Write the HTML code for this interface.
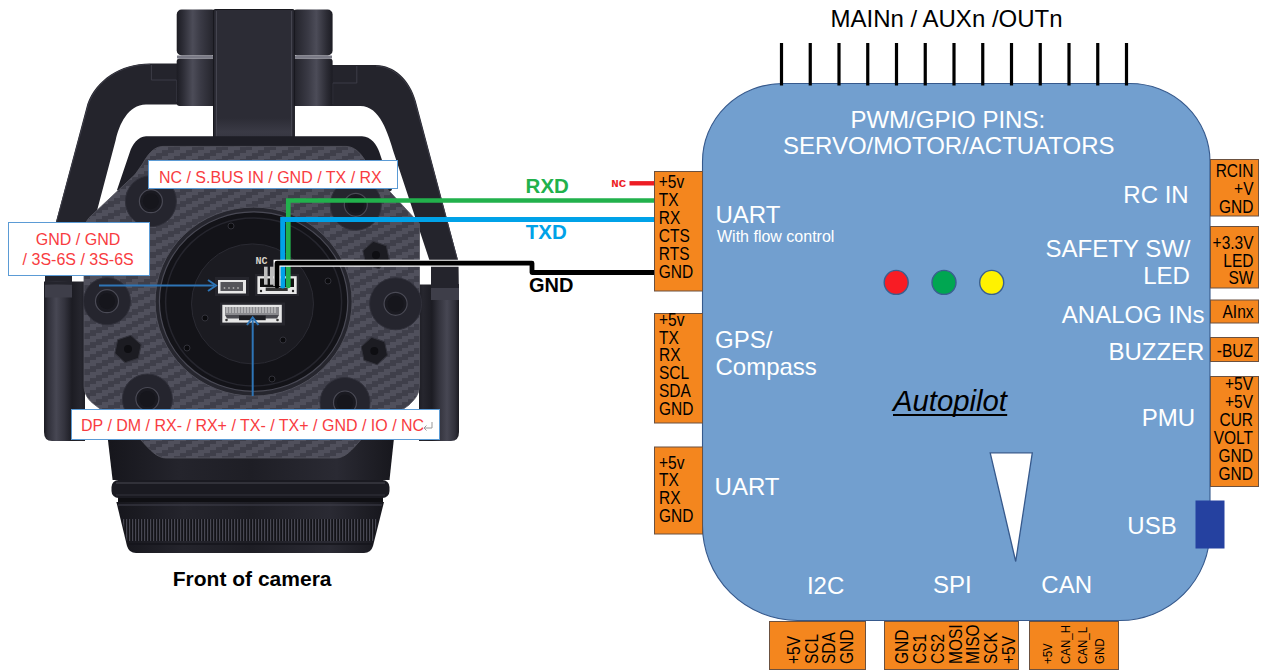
<!DOCTYPE html>
<html><head><meta charset="utf-8">
<style>
html,body{margin:0;padding:0;background:#fff;}
body{width:1266px;height:672px;overflow:hidden;position:relative;}
svg{position:absolute;left:0;top:0;}
text{font-family:"Liberation Sans",sans-serif;}
</style></head><body>
<svg width="1266" height="672" viewBox="0 0 1266 672">
<defs>
<pattern id="carbon" width="24" height="12" patternUnits="userSpaceOnUse"><rect width="24" height="12" fill="#3f3f4a"/><g fill="#50505c"><rect x="18" y="0" width="12" height="3.05"/><rect x="-6" y="0" width="12" height="3.05"/><rect x="12" y="3" width="12" height="3.05"/><rect x="6" y="6" width="12" height="3.05"/><rect x="0" y="9" width="12" height="3.05"/></g></pattern>
<linearGradient id="cylH" x1="0" x2="1" y1="0" y2="0">
<stop offset="0" stop-color="#1a1a20"/><stop offset="0.45" stop-color="#3a3a44"/><stop offset="0.7" stop-color="#2a2a32"/><stop offset="1" stop-color="#18181e"/>
</linearGradient>
<linearGradient id="motorL" x1="0" x2="1" y1="0" y2="0">
<stop offset="0" stop-color="#1a1a21"/><stop offset="0.1" stop-color="#30303a"/><stop offset="0.3" stop-color="#474753"/><stop offset="0.5" stop-color="#33333d"/><stop offset="0.68" stop-color="#1c1c23"/><stop offset="0.9" stop-color="#26262e"/><stop offset="1" stop-color="#1e1e25"/></linearGradient>
<linearGradient id="motorR" x1="0" x2="1" y1="0" y2="0">
<stop offset="0" stop-color="#1e1e25"/><stop offset="0.1" stop-color="#26262e"/><stop offset="0.32" stop-color="#1c1c23"/><stop offset="0.5" stop-color="#33333d"/><stop offset="0.7" stop-color="#474753"/><stop offset="0.9" stop-color="#30303a"/><stop offset="1" stop-color="#1a1a21"/></linearGradient>
<linearGradient id="barrel" x1="0" x2="1" y1="0" y2="0">
<stop offset="0" stop-color="#16161c"/><stop offset="0.25" stop-color="#24242c"/><stop offset="0.5" stop-color="#1e1e25"/><stop offset="0.8" stop-color="#2a2a33"/><stop offset="1" stop-color="#17171d"/></linearGradient>
<radialGradient id="boss" cx="0.45" cy="0.4" r="0.6">
<stop offset="0" stop-color="#2a2a32"/><stop offset="1" stop-color="#1a1a20"/>
</radialGradient>
<pattern id="knurl" width="3" height="22" patternUnits="userSpaceOnUse"><rect width="3" height="22" fill="#131318"/><rect x="0" width="1.2" height="22" fill="#474752"/></pattern>
<linearGradient id="cylL" x1="0" x2="1" y1="0" y2="0"><stop offset="0" stop-color="#1c1c23"/><stop offset="0.15" stop-color="#2c2c35"/><stop offset="0.4" stop-color="#4c4c58"/><stop offset="0.6" stop-color="#3a3a45"/><stop offset="0.9" stop-color="#26262e"/><stop offset="1" stop-color="#1a1a20"/></linearGradient>
<linearGradient id="cylR" x1="0" x2="1" y1="0" y2="0"><stop offset="0" stop-color="#1a1a20"/><stop offset="0.1" stop-color="#26262e"/><stop offset="0.4" stop-color="#3a3a45"/><stop offset="0.6" stop-color="#4c4c58"/><stop offset="0.85" stop-color="#2c2c35"/><stop offset="1" stop-color="#1c1c23"/></linearGradient>
<linearGradient id="colBot" x1="0" x2="0" y1="0" y2="1"><stop offset="0" stop-color="#2c2c35"/><stop offset="0.5" stop-color="#3a3a45"/><stop offset="1" stop-color="#33333d"/></linearGradient>
</defs>
<g id="camera">
<!-- arms -->
<path d="M178 63.4 L150 63.4 C120 63.4 96 80 87.4 103.7 L56.2 221 L45 262 L45 300 L72 300 L72 270 L94.3 221 L115.7 140 C119 125 128 104.5 146 104.5 L213 104.5 Z" fill="#24242c"/>
<path d="M331 65 L376 65 C394 65 410 80 415.7 100.7 L458.5 262 L459 300 L431 300 L431 265 L394.3 154.3 C388 133 380 106 360.4 106 L296 106 Z" fill="#24242c"/>
<path d="M150 64.4 C120 64.4 97 81 88.4 104 L56.5 222" fill="none" stroke="#3c3c47" stroke-width="1"/>
<path d="M376 66 C393 66 409 81 414.7 101 L458 262" fill="none" stroke="#3c3c47" stroke-width="1"/>
<path d="M151.4 65 V80 H176.6 V102" fill="none" stroke="#40404b" stroke-width="0.9"/>
<path d="M356.8 66 V83 H332.7 V104" fill="none" stroke="#40404b" stroke-width="0.9"/>
<!-- top block & joint -->
<rect x="176.7" y="9.5" width="40" height="46" rx="5" fill="url(#cylL)"/>
<rect x="292" y="9.5" width="40.6" height="46" rx="5" fill="url(#cylR)"/>
<rect x="176.7" y="58.5" width="40" height="47.5" rx="3" fill="url(#cylL)"/>
<rect x="292" y="58.5" width="40.6" height="47.5" rx="3" fill="url(#cylR)"/>
<rect x="177" y="55.5" width="155" height="3" fill="#7a7a86"/>
<rect x="213.6" y="9.5" width="80.7" height="137" rx="2" fill="#2c2c35" stroke="#18181e" stroke-width="1.2"/>
<line x1="216.5" y1="11" x2="216.5" y2="145" stroke="#44444f" stroke-width="1"/>
<line x1="291.5" y1="11" x2="291.5" y2="145" stroke="#44444f" stroke-width="1"/>
<rect x="217" y="118" width="74" height="28" fill="url(#colBot)"/>
<!-- body behind plate -->
<path d="M146 136.3 L362 136.3 C371 136.3 377 145 379.4 152.3 L392 190 L300 250 L210 250 L117 190 L129.8 152.3 C132 145 138 136.3 146 136.3 Z" fill="#1e1e26"/>
<!-- motor blocks -->
<path d="M44 281.5 L85 281.5 L85 441 L52 441 Q44 441 44 432 Z" fill="url(#motorL)"/>
<rect x="45" y="284.5" width="27" height="13" fill="#3e3e49"/>
<rect x="45" y="281.5" width="27" height="3" fill="#24242c"/>
<path d="M419 284.6 L459 284.6 L459 432 Q459 441 451 441 L419 441 Z" fill="url(#motorR)"/>
<rect x="431" y="288" width="28" height="12" fill="#3e3e49"/>
<rect x="431" y="284" width="28" height="4" fill="#24242c"/>
<!-- lens barrel -->
<path d="M107.7 438 L394 438 L389.5 480 L112.6 480 Z" fill="url(#barrel)"/>
<rect x="111.5" y="480" width="278" height="18" rx="7" fill="#1a1a21"/>
<line x1="116" y1="483" x2="385" y2="483" stroke="#484853" stroke-width="1.2"/>
<line x1="116" y1="495" x2="385" y2="495" stroke="#33333d" stroke-width="1"/>
<rect x="118" y="498" width="265" height="4" fill="#0f0f13"/>
<path d="M116.4 502 L384 502 L373 546 Q371 553 364 553 L136 553 Q129 553 127 546 Z" fill="url(#barrel)"/>
<line x1="118" y1="505" x2="382" y2="505" stroke="#41414c" stroke-width="1.2"/>
<path d="M122 519 L378 519 L373 541 L127 541 Z" fill="url(#knurl)"/>
<line x1="127" y1="544" x2="373" y2="544" stroke="#15151b" stroke-width="1.5"/>
<!-- carbon plate -->
<path d="M163 146.4 L346 146.4 C356 146.4 363 156 367 164 L374 174.6 L419.5 223.7 L419.5 385 C419.5 395 414 400 409 405 L360.5 440 C352 450 345 458 336 458 L166 458 C157 458 150 450 141 440 L95 405 C88 400 84 394 84 385 L84 225 L89 217.8 L135 174.6 L142.5 164 C147 156 153 146.4 163 146.4 Z" fill="url(#carbon)" stroke="#55555f" stroke-width="0.8"/>
<!-- screw bosses -->
<circle cx="150.9" cy="201.2" r="25.5" fill="#25252e" stroke="#30303a" stroke-width="1"/><circle cx="150.9" cy="201.2" r="11.5" fill="#1a1a21" stroke="#4a4a55" stroke-width="1.2"/><circle cx="150.9" cy="201.2" r="8" fill="#16161c"/>
<circle cx="355.8" cy="204.8" r="25.5" fill="#25252e" stroke="#30303a" stroke-width="1"/><circle cx="355.8" cy="204.8" r="11.5" fill="#1a1a21" stroke="#4a4a55" stroke-width="1.2"/><circle cx="355.8" cy="204.8" r="8" fill="#16161c"/>
<circle cx="107" cy="301.2" r="23.5" fill="#25252e" stroke="#30303a" stroke-width="1"/><circle cx="107" cy="301.2" r="11.5" fill="#1a1a21" stroke="#4a4a55" stroke-width="1.2"/><circle cx="107" cy="301.2" r="8" fill="#16161c"/>
<circle cx="395.6" cy="303.8" r="26" fill="#25252e" stroke="#30303a" stroke-width="1"/><circle cx="395.6" cy="303.8" r="11.5" fill="#1a1a21" stroke="#4a4a55" stroke-width="1.2"/><circle cx="395.6" cy="303.8" r="8" fill="#16161c"/>
<circle cx="147.4" cy="399" r="25" fill="#25252e" stroke="#30303a" stroke-width="1"/><circle cx="147.4" cy="399" r="11.5" fill="#1a1a21" stroke="#4a4a55" stroke-width="1.2"/><circle cx="147.4" cy="399" r="8" fill="#16161c"/>
<circle cx="345" cy="402.5" r="25" fill="#25252e" stroke="#30303a" stroke-width="1"/><circle cx="345" cy="402.5" r="11.5" fill="#1a1a21" stroke="#4a4a55" stroke-width="1.2"/><circle cx="345" cy="402.5" r="8" fill="#16161c"/>
<!-- hex nuts -->
<g fill="#1c1c22" stroke="#33333c" stroke-width="1">
<path d="M128 335 L140 342 L140 356 L128 363 L116 356 L116 342 Z" transform="rotate(12 128 349)"/>
<path d="M374.3 337 L386.3 344 L386.3 358 L374.3 365 L362.3 358 L362.3 344 Z" transform="rotate(-12 374.3 351)"/>
<path d="M376 241 L388 248 L388 262 L376 269 L364 262 L364 248 Z" transform="rotate(-12 376 255)"/>
</g>
<g fill="#0e0e12"><circle cx="128" cy="349" r="4"/><circle cx="374.3" cy="351" r="4"/><circle cx="376" cy="255" r="4"/></g>
<!-- lens -->
<ellipse cx="253.6" cy="301.6" rx="98.5" ry="94.5" fill="#26262e" stroke="#50505b" stroke-width="1"/>
<ellipse cx="253.6" cy="301.6" rx="94.2" ry="89.7" fill="#131318" stroke="#4a4a55" stroke-width="1.2"/>
<ellipse cx="253.6" cy="302" rx="88" ry="84" fill="none" stroke="#26262e" stroke-width="1.5"/>
<ellipse cx="252.5" cy="303.9" rx="61" ry="60" fill="#1b1b21" stroke="#2a2a32" stroke-width="1"/>
<g fill="#0b0b0e" stroke="#3a3a42" stroke-width="0.8">
<circle cx="231" cy="226" r="3"/><circle cx="328" cy="281" r="3"/><circle cx="205" cy="318" r="3"/><circle cx="283" cy="340" r="3"/><circle cx="187" cy="348" r="3"/><circle cx="272" cy="379" r="3"/>
</g>
<!-- connectors -->
<rect x="215" y="277" width="34" height="19" fill="#26262d"/>
<rect x="218" y="280" width="28" height="13.5" fill="#e8e8e8"/><rect x="220.5" y="282" width="22.5" height="9" fill="#55555a"/>
<g fill="#aaa"><circle cx="224.5" cy="288" r="0.9"/><circle cx="229" cy="288" r="0.9"/><circle cx="233.5" cy="288" r="0.9"/><circle cx="238" cy="288" r="0.9"/></g>
<rect x="255" y="274" width="44" height="22" fill="#26262d"/>
<rect x="257.4" y="276.2" width="39.3" height="17.8" fill="#e8e8e8"/>
<rect x="260" y="278.5" width="34" height="8.5" fill="#111"/>
<rect x="265.7" y="287.5" width="22" height="3.5" fill="#333"/>
<circle cx="261" cy="291" r="1.2" fill="#222"/><circle cx="293" cy="291" r="1.2" fill="#222"/>
<rect x="220" y="302.5" width="65" height="23" fill="#26262d"/>
<rect x="222.3" y="304.8" width="59.5" height="17.8" fill="#e6e6e6"/>
<rect x="225" y="307" width="54" height="8" fill="#8a8a8e"/>
<g stroke="#d8d8d8" stroke-width="1"><path d="M227 307v6M230 307v6M233 307v6M236 307v6M239 307v6M242 307v6M245 307v6M248 307v6M251 307v6M254 307v6M257 307v6M260 307v6M263 307v6M266 307v6M269 307v6M272 307v6M275 307v6"/></g>
<path d="M225 315 L279 315 L277 318.5 L227 318.5 Z" fill="#4a4a50"/>
<rect x="239" y="315.5" width="26.7" height="4.7" fill="#1e1e22"/>
<circle cx="226.5" cy="320" r="1.3" fill="#333"/><circle cx="277.5" cy="320" r="1.3" fill="#333"/>
</g>
<!-- NC small wires on camera -->
<rect x="264" y="266.7" width="3.6" height="18" fill="#bdbdbd"/>
<rect x="270" y="266.7" width="3.6" height="18" fill="#bdbdbd"/>
<text x="255.5" y="263.7" font-size="10" font-weight="bold" fill="#d6d2c8" style="font-family:'Liberation Mono',monospace">NC</text>

<rect x="148.5" y="160.5" width="249" height="28" fill="#fff" stroke="#5b9bd5" stroke-width="1"/>
<text x="158.9" y="183.2" font-size="16" fill="#f83c41">NC / S.BUS IN / GND / TX / RX</text>
<rect x="8.5" y="222.5" width="141" height="53" fill="#fff" stroke="#5b9bd5" stroke-width="1"/>
<text x="35.8" y="245.2" font-size="16" fill="#f83c41">GND / GND</text>
<text x="22.6" y="265.1" font-size="16" fill="#f83c41">/ 3S-6S / 3S-6S</text>
<rect x="71.5" y="409.5" width="368" height="30" fill="#fff" stroke="#5b9bd5" stroke-width="1"/>
<text x="81.0" y="431" font-size="16" fill="#f83c41">DP / DM / RX- / RX+ / TX- / TX+ / GND / IO / NC</text>
<path d="M432 422 L432 428 L424 428 M426.5 425.5 L424 428 L426.5 430.5" fill="none" stroke="#999" stroke-width="1"/>
<line x1="99" y1="285.5" x2="214" y2="285.5" stroke="#2e75b6" stroke-width="2"/>
<path d="M208 280 L216 285.5 L208 291" fill="none" stroke="#2e75b6" stroke-width="2"/>
<line x1="252.7" y1="396" x2="252.7" y2="320" stroke="#2e75b6" stroke-width="2"/>
<path d="M247 325 L252.7 317.5 L258.4 325" fill="none" stroke="#2e75b6" stroke-width="2"/>
<text x="172.8" y="585.8" font-size="21" font-weight="bold" fill="#000">Front of camera</text>
<path d="M288.3 286 L288.3 200.5 L655 200.5" fill="none" stroke="#22b14c" stroke-width="4.7" stroke-linecap="round"/>
<path d="M282.7 286 L282.7 219.5 L655 219.5" fill="none" stroke="#00a2e8" stroke-width="5" stroke-linecap="round"/>
<path d="M277 286 L277 263.2 L532 263.2 L532 272.5 L655 272.5" fill="none" stroke="#fff" stroke-width="7"/>
<path d="M277 286 L277 263.2 L532 263.2 L532 272.5 L655 272.5" fill="none" stroke="#000" stroke-width="4.8" stroke-linecap="round" stroke-linejoin="round"/>
<line x1="629.5" y1="183.3" x2="655" y2="183.3" stroke="#ed1c24" stroke-width="4.4" stroke-linecap="butt"/><circle cx="655" cy="183.3" r="2.2" fill="#ed1c24"/>
<text transform="translate(611.3,187) scale(1.04,0.88)" font-size="12" font-weight="bold" fill="#ed1c24" style="font-family:'Liberation Mono',monospace">NC</text>
<text x="525.6" y="192.7" font-size="20.5" font-weight="bold" fill="#22b14c">RXD</text>
<text x="525.8" y="238.75" font-size="20.5" font-weight="bold" fill="#00a2e8">TXD</text>
<text x="529.0" y="292.3" font-size="20" font-weight="bold" fill="#000">GND</text>
<text x="830.5" y="27.1" font-size="24" fill="#000">MAINn / AUXn /OUTn</text>
<path d="M782.5 83.5 L1130 83.5 A80 78 0 0 1 1210 161.5 L1210 530.5 A90 90 0 0 1 1120 620.5 L797.5 620.5 A95 95 0 0 1 702.5 525.5 L702.5 161.5 A80 78 0 0 1 782.5 83.5 Z" fill="#729fcf" stroke="#36598c" stroke-width="1.1"/>
<g stroke="#000" stroke-width="3.2"><line x1="781.5" y1="43" x2="781.5" y2="85.5"/><line x1="810.25" y1="43" x2="810.25" y2="85.5"/><line x1="839.0" y1="43" x2="839.0" y2="85.5"/><line x1="867.75" y1="43" x2="867.75" y2="85.5"/><line x1="896.5" y1="43" x2="896.5" y2="85.5"/><line x1="925.25" y1="43" x2="925.25" y2="85.5"/><line x1="954.0" y1="43" x2="954.0" y2="85.5"/><line x1="982.75" y1="43" x2="982.75" y2="85.5"/><line x1="1011.5" y1="43" x2="1011.5" y2="85.5"/><line x1="1040.25" y1="43" x2="1040.25" y2="85.5"/><line x1="1069.0" y1="43" x2="1069.0" y2="85.5"/><line x1="1097.75" y1="43" x2="1097.75" y2="85.5"/><line x1="1126.5" y1="43" x2="1126.5" y2="85.5"/></g>
<rect x="654.5" y="171.5" width="48.0" height="119.5" fill="#f4861e" stroke="#6b5140" stroke-width="1"/>
<text transform="translate(658.8,187.6) scale(1,1.14)" font-size="15.5" fill="#000">+5v</text>
<text transform="translate(658.8,205.6) scale(1,1.14)" font-size="15.5" fill="#000">TX</text>
<text transform="translate(658.8,223.6) scale(1,1.14)" font-size="15.5" fill="#000">RX</text>
<text transform="translate(658.8,241.6) scale(1,1.14)" font-size="15.5" fill="#000">CTS</text>
<text transform="translate(658.8,259.6) scale(1,1.14)" font-size="15.5" fill="#000">RTS</text>
<text transform="translate(658.8,277.6) scale(1,1.14)" font-size="15.5" fill="#000">GND</text>
<rect x="654.5" y="313.5" width="48.0" height="109.5" fill="#f4861e" stroke="#6b5140" stroke-width="1"/>
<text transform="translate(659,325.8) scale(1,1.14)" font-size="15.5" fill="#000">+5v</text>
<text transform="translate(659,343.6) scale(1,1.14)" font-size="15.5" fill="#000">TX</text>
<text transform="translate(659,361.4) scale(1,1.14)" font-size="15.5" fill="#000">RX</text>
<text transform="translate(659,379.2) scale(1,1.14)" font-size="15.5" fill="#000">SCL</text>
<text transform="translate(659,397.0) scale(1,1.14)" font-size="15.5" fill="#000">SDA</text>
<text transform="translate(659,414.8) scale(1,1.14)" font-size="15.5" fill="#000">GND</text>
<rect x="654.5" y="447" width="48.0" height="87" fill="#f4861e" stroke="#6b5140" stroke-width="1"/>
<text transform="translate(659,468.6) scale(1,1.14)" font-size="15.5" fill="#000">+5v</text>
<text transform="translate(659,486.4) scale(1,1.14)" font-size="15.5" fill="#000">TX</text>
<text transform="translate(659,504.2) scale(1,1.14)" font-size="15.5" fill="#000">RX</text>
<text transform="translate(659,522.0) scale(1,1.14)" font-size="15.5" fill="#000">GND</text>
<rect x="1210.5" y="159.5" width="48.0" height="56.5" fill="#f4861e" stroke="#6b5140" stroke-width="1"/>
<text transform="translate(1253.5,177.2) scale(1,1.14)" font-size="15.5" fill="#000" text-anchor="end">RCIN</text>
<text transform="translate(1253.5,195.1) scale(1,1.14)" font-size="15.5" fill="#000" text-anchor="end">+V</text>
<text transform="translate(1253.5,213.0) scale(1,1.14)" font-size="15.5" fill="#000" text-anchor="end">GND</text>
<rect x="1210.5" y="226.5" width="48.0" height="61.5" fill="#f4861e" stroke="#6b5140" stroke-width="1"/>
<text transform="translate(1253.5,249.2) scale(1,1.14)" font-size="15.5" fill="#000" text-anchor="end">+3.3V</text>
<text transform="translate(1253.5,266.8) scale(1,1.14)" font-size="15.5" fill="#000" text-anchor="end">LED</text>
<text transform="translate(1253.5,284.4) scale(1,1.14)" font-size="15.5" fill="#000" text-anchor="end">SW</text>
<rect x="1210.5" y="300" width="48.0" height="23" fill="#f4861e" stroke="#6b5140" stroke-width="1"/>
<text transform="translate(1253.5,317.7) scale(1,1.14)" font-size="15.5" fill="#000" text-anchor="end">AInx</text>
<rect x="1210.5" y="337.5" width="48.0" height="24.0" fill="#f4861e" stroke="#6b5140" stroke-width="1"/>
<text transform="translate(1253,357) scale(1,1.14)" font-size="15.5" fill="#000" text-anchor="end">-BUZ</text>
<rect x="1210.5" y="376.5" width="48.0" height="110.0" fill="#f4861e" stroke="#6b5140" stroke-width="1"/>
<text transform="translate(1253,390.0) scale(1,1.14)" font-size="15.5" fill="#000" text-anchor="end">+5V</text>
<text transform="translate(1253,407.9) scale(1,1.14)" font-size="15.5" fill="#000" text-anchor="end">+5V</text>
<text transform="translate(1253,425.9) scale(1,1.14)" font-size="15.5" fill="#000" text-anchor="end">CUR</text>
<text transform="translate(1253,443.9) scale(1,1.14)" font-size="15.5" fill="#000" text-anchor="end">VOLT</text>
<text transform="translate(1253,461.8) scale(1,1.14)" font-size="15.5" fill="#000" text-anchor="end">GND</text>
<text transform="translate(1253,479.8) scale(1,1.14)" font-size="15.5" fill="#000" text-anchor="end">GND</text>
<rect x="769.5" y="621.5" width="96.0" height="48.0" fill="#f4861e" stroke="#6b5140" stroke-width="1"/>
<text transform="translate(799.8,664) rotate(-90) scale(1,1.14)" font-size="15.5" fill="#000">+5V</text>
<text transform="translate(817.6,664) rotate(-90) scale(1,1.14)" font-size="15.5" fill="#000">SCL</text>
<text transform="translate(835.4,664) rotate(-90) scale(1,1.14)" font-size="15.5" fill="#000">SDA</text>
<text transform="translate(853.2,664) rotate(-90) scale(1,1.14)" font-size="15.5" fill="#000">GND</text>
<rect x="884.5" y="621.5" width="134.0" height="48.0" fill="#f4861e" stroke="#6b5140" stroke-width="1"/>
<text transform="translate(908.2,664) rotate(-90) scale(1,1.14)" font-size="15.5" fill="#000">GND</text>
<text transform="translate(926.0,664) rotate(-90) scale(1,1.14)" font-size="15.5" fill="#000">CS1</text>
<text transform="translate(943.8,664) rotate(-90) scale(1,1.14)" font-size="15.5" fill="#000">CS2</text>
<text transform="translate(961.6,664) rotate(-90) scale(1,1.14)" font-size="15.5" fill="#000">MOSI</text>
<text transform="translate(979.4,664) rotate(-90) scale(1,1.14)" font-size="15.5" fill="#000">MISO</text>
<text transform="translate(997.2,664) rotate(-90) scale(1,1.14)" font-size="15.5" fill="#000">SCK</text>
<text transform="translate(1015.0,664) rotate(-90) scale(1,1.14)" font-size="15.5" fill="#000">+5V</text>
<rect x="1029.5" y="621.5" width="89.0" height="48.0" fill="#f4861e" stroke="#6b5140" stroke-width="1"/>
<text transform="translate(1052.3,664) rotate(-90) scale(1,1.14)" font-size="11.5" fill="#000">+5V</text>
<text transform="translate(1069.5,664) rotate(-90) scale(1,1.14)" font-size="11.5" fill="#000">CAN_H</text>
<text transform="translate(1086.7,664) rotate(-90) scale(1,1.14)" font-size="11.5" fill="#000">CAN_L</text>
<text transform="translate(1103.9,664) rotate(-90) scale(1,1.14)" font-size="11.5" fill="#000">GND</text>
<text x="850.4" y="127.7" font-size="24" fill="#fff">PWM/GPIO PINS:</text>
<text x="783.0" y="154.4" font-size="24" fill="#fff">SERVO/MOTOR/ACTUATORS</text>
<text x="715.5" y="222.5" font-size="24" fill="#fff">UART</text>
<text x="717.0" y="242.3" font-size="16" fill="#fff">With flow control</text>
<text x="1123.3" y="202.8" font-size="24" fill="#fff">RC IN</text>
<text x="1045.6" y="256.9" font-size="24" fill="#fff">SAFETY SW/</text>
<text x="1143.2" y="284" font-size="24" fill="#fff">LED</text>
<text x="1061.8" y="323" font-size="24" fill="#fff">ANALOG INs</text>
<text x="1108.4" y="359.7" font-size="24" fill="#fff">BUZZER</text>
<text x="1141.8" y="426" font-size="24" fill="#fff">PMU</text>
<text x="1127.3" y="534.3" font-size="24" fill="#fff">USB</text>
<text x="715.0" y="348.2" font-size="24" fill="#fff">GPS/</text>
<text x="715.5" y="375" font-size="24" fill="#fff">Compass</text>
<text x="714.6" y="494.6" font-size="24" fill="#fff">UART</text>
<text x="806.9" y="594" font-size="24" fill="#fff">I2C</text>
<text x="933.0" y="593" font-size="24" fill="#fff">SPI</text>
<text x="1041.3" y="593" font-size="24" fill="#fff">CAN</text>
<text x="893.0" y="410.75" font-size="29.3" font-style="italic" fill="#000">Autopilot</text>
<line x1="893" y1="415" x2="1007.2" y2="415" stroke="#000" stroke-width="2"/>
<circle cx="896.2" cy="282.4" r="12" fill="#f81c24" stroke="#3a5f8f" stroke-width="1.4"/>
<circle cx="944" cy="282.4" r="12" fill="#00a651" stroke="#3a5f8f" stroke-width="1.4"/>
<circle cx="991.7" cy="282.4" r="12" fill="#fff200" stroke="#3a5f8f" stroke-width="1.4"/>
<path d="M990.2 452.8 L1032.3 452.8 L1015.7 561.5 Z" fill="#fff" stroke="#36598c" stroke-width="1.3"/>
<rect x="1195.5" y="500.5" width="29" height="48" fill="#2541a0"/>
</svg>
</body></html>
